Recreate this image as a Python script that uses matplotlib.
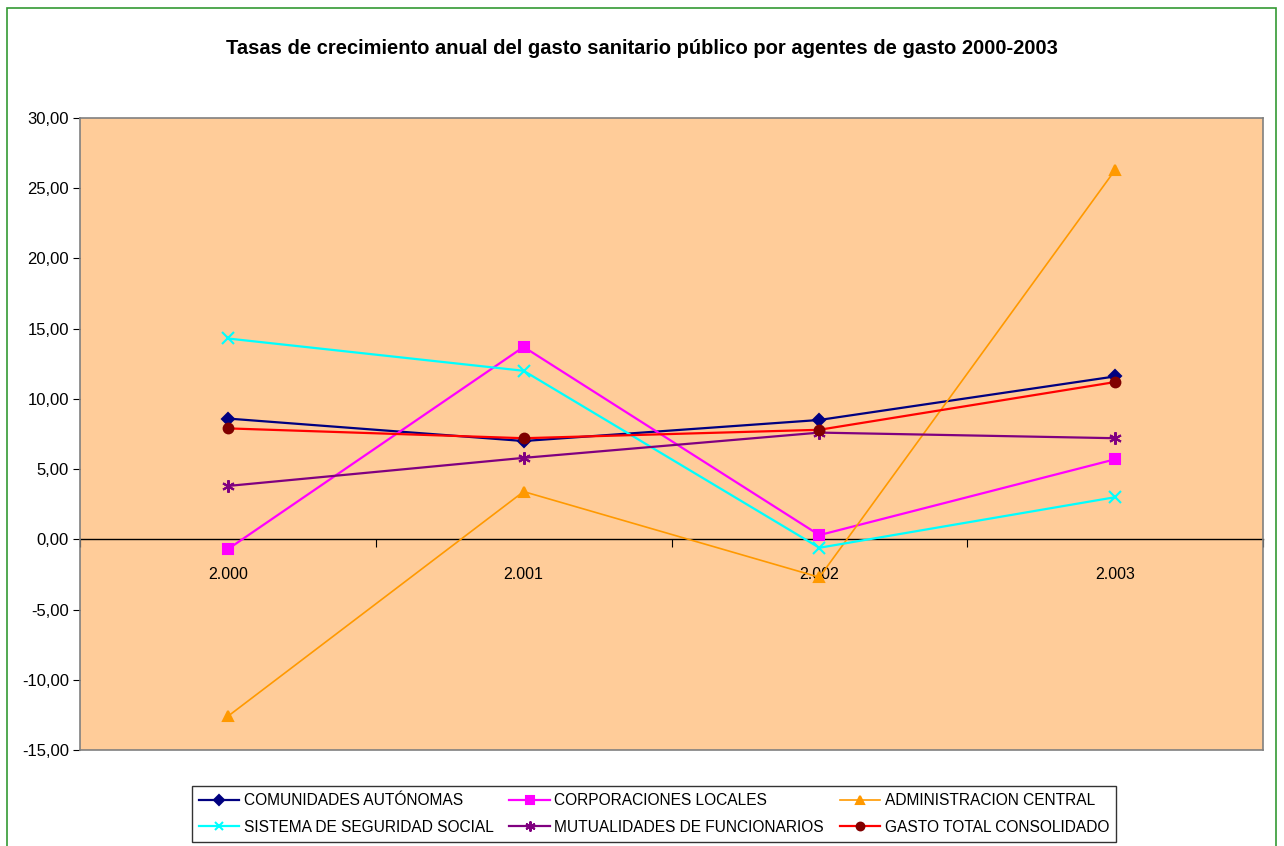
import numpy as np
import matplotlib
matplotlib.use('Agg')
import matplotlib.pyplot as plt
from matplotlib.patches import Rectangle
from matplotlib.ticker import FuncFormatter, FixedLocator

plt.rcParams['font.family'] = ['Liberation Sans', 'DejaVu Sans']

years = ['2.000', '2.001', '2.002', '2.003']
comunidades = [8.6, 7.0, 8.5, 11.6]
corporaciones = [-0.7, 13.7, 0.3, 5.7]
administracion = [-12.6, 3.4, -2.7, 26.3]
seguridad = [14.3, 12.0, -0.6, 3.0]
mutualidades = [3.8, 5.8, 7.6, 7.2]
gasto_total = [7.9, 7.2, 7.8, 11.2]

series = [
    ('COMUNIDADES AUTÓNOMAS', comunidades, '#000080', '#000080', 'D', 6),
    ('CORPORACIONES LOCALES', corporaciones, '#FF00FF', '#FF00FF', 's', 7),
    ('ADMINISTRACION CENTRAL', administracion, '#FF9900', '#FF9900', '^', 7),
    ('SISTEMA DE SEGURIDAD SOCIAL', seguridad, '#00FFFF', '#00FFFF', 'x', 8),
    ('MUTUALIDADES DE FUNCIONARIOS', mutualidades, '#800080', '#800080', (6, 2, 0), 9),
    ('GASTO TOTAL CONSOLIDADO', gasto_total, '#FF0000', '#800000', 'o', 7),
]

fig = plt.figure(figsize=(12.84, 8.46), dpi=100)
ax = fig.add_axes([80 / 1284, 96 / 846, 1183 / 1284, 632 / 846])
ax.set_facecolor('#FFCC99')

x = np.arange(len(years))
handles = []
for name, vals, col, mcol, mk, ms in series:
    lw = 1.2 if col == '#FF9900' else 1.6
    h, = ax.plot(x, vals, color=col, lw=lw, marker=mk, markersize=ms,
                 markerfacecolor=mcol, markeredgecolor=mcol, mew=1.5, label=name)
    handles.append(h)

ax.set_xlim(-0.5, len(years) - 0.5)
ax.set_ylim(-15, 30)
ax.set_yticks(np.arange(-15, 31, 5))
ax.yaxis.set_major_formatter(FuncFormatter(lambda v, p: ('%.2f' % v).replace('.', ',')))
ax.tick_params(axis='y', labelsize=12, length=5, color='black', pad=3)
ax.set_xticks([])
for s in ax.spines.values():
    s.set_color('#808080')
    s.set_linewidth(1.2)

# eje de categorías sobre el cero
sec = ax.secondary_xaxis(15 / 45)
sec.spines['bottom'].set_color('black')
sec.spines['bottom'].set_linewidth(1)
sec.xaxis.set_major_locator(FixedLocator(np.arange(len(years) + 1) - 0.5))
sec.xaxis.set_major_formatter(FuncFormatter(lambda v, p: ''))
sec.set_xticks(x, years, minor=True)
sec.tick_params(axis='x', which='major', length=6, color='black')
sec.tick_params(axis='x', which='minor', length=0, labelsize=11.5, pad=20)

fig.text(0.5, 1 - 48 / 846, 'Tasas de crecimiento anual del gasto sanitario público por agentes de gasto 2000-2003',
         ha='center', va='center', fontsize=14.5, fontweight='bold')

order = [0, 3, 1, 4, 2, 5]
leg = fig.legend([handles[i] for i in order], [series[i][0] for i in order],
                 ncol=3, loc='center', bbox_to_anchor=(654 / 1284, 1 - 814 / 846),
                 fontsize=11.2, frameon=True, fancybox=False, edgecolor='black',
                 handlelength=2.6, handletextpad=0.3, columnspacing=1.0,
                 borderpad=0.45, labelspacing=0.75, markerscale=0.8)
leg.get_frame().set_linewidth(1)

fig.patches.append(Rectangle((7 / 1284, -0.01), 1269 / 1284, 1.01 - 8 / 846,
                             transform=fig.transFigure, fill=False,
                             edgecolor='#339933', lw=1.2))

fig.savefig('out.png', dpi=100)
